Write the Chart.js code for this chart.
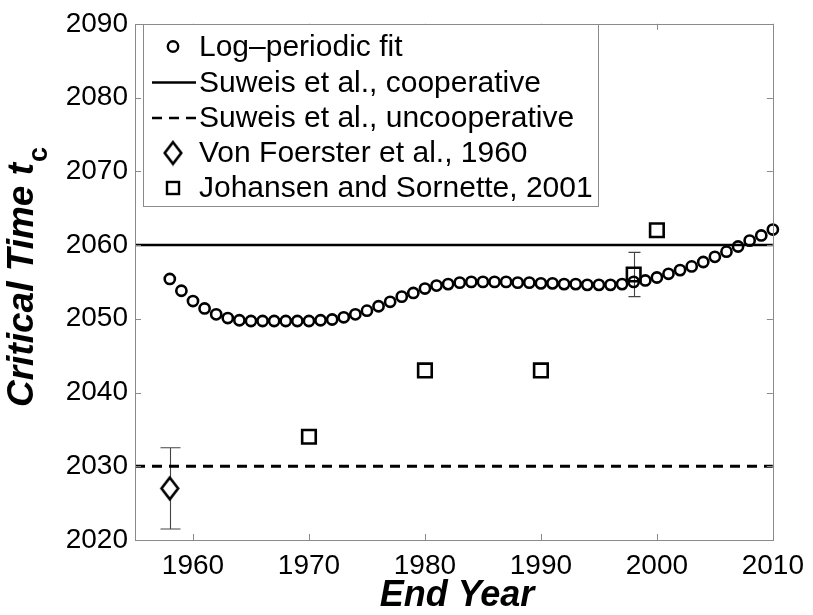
<!DOCTYPE html>
<html>
<head>
<meta charset="utf-8">
<script src="https://cdn.jsdelivr.net/npm/chart.js@4.4.0/dist/chart.umd.min.js"></script>
<style>
  html, body { margin: 0; padding: 0; background: #fff; }
  #wrap { width: 813px; height: 615px; }
</style>
</head>
<body>
<div id="wrap"><canvas id="myChart" width="813" height="615"></canvas></div>
<script>
// data
const fitYears = [1958, 1959, 1960, 1961, 1962, 1963, 1964, 1965, 1966, 1967,
  1968, 1969, 1970, 1971, 1972, 1973, 1974, 1975, 1976, 1977,
  1978, 1979, 1980, 1981, 1982, 1983, 1984, 1985, 1986, 1987,
  1988, 1989, 1990, 1991, 1992, 1993, 1994, 1995, 1996, 1997,
  1998, 1999, 2000, 2001, 2002, 2003, 2004, 2005, 2006, 2007,
  2008, 2009, 2010];
const fitTc = [2055.4, 2053.8, 2052.4, 2051.4, 2050.6, 2050.1, 2049.8, 2049.7, 2049.7, 2049.7,
  2049.7, 2049.7, 2049.7, 2049.8, 2049.9, 2050.2, 2050.6, 2051.1, 2051.7, 2052.3,
  2053.0, 2053.5, 2054.1, 2054.5, 2054.7, 2054.9, 2055.0, 2055.0, 2055.0, 2055.0,
  2054.9, 2054.9, 2054.8, 2054.8, 2054.7, 2054.7, 2054.6, 2054.6, 2054.6, 2054.7,
  2055.0, 2055.2, 2055.6, 2056.1, 2056.6, 2057.1, 2057.7, 2058.4, 2059.1, 2059.8,
  2060.6, 2061.3, 2062.1];
const cooperativeTc = 2060;
const uncooperativeTc = 2030;
const foersterYears = [1958];
const foersterTc = [2027];
const foersterErr = [5.5];
const johansenYears = [1970, 1980, 1990, 1998, 2000];
const johansenTc = [2034, 2043, 2043, 2056, 2062];
const johansenErr = [0, 0, 0, 3, 0];
const xTicks = [1960, 1970, 1980, 1990, 2000, 2010];
const yTicks = [2020, 2030, 2040, 2050, 2060, 2070, 2080, 2090];
const legendLabels = ["Log\u2013periodic fit", "Suweis et al., cooperative", "Suweis et al., uncooperative",
  "Von Foerster et al., 1960", "Johansen and Sornette, 2001"];

const xMin = 1955, xMax = 2010, yMin = 2020, yMax = 2090;
const fontFam = "'Liberation Sans', Arial, Helvetica, sans-serif";
const axisGray = "#8a8a8a";

function pts(xs, ys) {
  return xs.map((x, i) => ({ x: x, y: ys[i] }));
}

// tall diamond marker like the original
function makeDiamond(hw, hh, lw) {
  const c = document.createElement("canvas");
  c.width = Math.ceil(hw * 2 + lw + 2);
  c.height = Math.ceil(hh * 2 + lw + 2);
  const g = c.getContext("2d");
  const cx = c.width / 2, cy = c.height / 2;
  g.beginPath();
  g.moveTo(cx, cy - hh);
  g.lineTo(cx + hw, cy);
  g.lineTo(cx, cy + hh);
  g.lineTo(cx - hw, cy);
  g.closePath();
  g.fillStyle = "#fff";
  g.fill();
  g.lineWidth = lw;
  g.strokeStyle = "#000";
  g.stroke();
  return c;
}
const diamondPlot = makeDiamond(8.3, 10.8, 2.6);
const diamondLegend = makeDiamond(8.3, 10.8, 2.6);

// frame + inward ticks (matlab style)
const framePlugin = {
  id: "frame",
  afterDraw(chart) {
    const ctx = chart.ctx;
    const a = chart.chartArea;
    const xs = chart.scales.x, ys = chart.scales.y;
    ctx.save();
    ctx.strokeStyle = axisGray;
    ctx.lineWidth = 1;
    ctx.strokeRect(Math.round(a.left) + 0.5, Math.round(a.top) + 0.5,
      Math.round(a.right - a.left), Math.round(a.bottom - a.top));
    ctx.beginPath();
    xTicks.forEach(v => {
      const px = Math.round(xs.getPixelForValue(v)) + 0.5;
      ctx.moveTo(px, a.bottom); ctx.lineTo(px, a.bottom - 6);
      ctx.moveTo(px, a.top); ctx.lineTo(px, a.top + 6);
    });
    yTicks.forEach(v => {
      const py = Math.round(ys.getPixelForValue(v)) + 0.5;
      ctx.moveTo(a.left, py); ctx.lineTo(a.left + 6, py);
      ctx.moveTo(a.right, py); ctx.lineTo(a.right - 6, py);
    });
    ctx.stroke();
    ctx.restore();
  }
};

// error bars through the scales
const errorPlugin = {
  id: "errbars",
  beforeDatasetsDraw(chart) {
    const ctx = chart.ctx;
    const xs = chart.scales.x, ys = chart.scales.y;
    function bar(x, y, e, cap) {
      if (!e) return;
      const px = Math.round(xs.getPixelForValue(x)) + 0.5;
      const p1 = ys.getPixelForValue(y - e), p2 = ys.getPixelForValue(y + e);
      ctx.beginPath();
      ctx.moveTo(px, p1); ctx.lineTo(px, p2);
      ctx.moveTo(px - cap, p1); ctx.lineTo(px + cap, p1);
      ctx.moveTo(px - cap, p2); ctx.lineTo(px + cap, p2);
      ctx.stroke();
    }
    ctx.save();
    ctx.strokeStyle = "#444";
    ctx.lineWidth = 1.1;
    foersterYears.forEach((x, i) => bar(x, foersterTc[i], foersterErr[i], 10));
    johansenYears.forEach((x, i) => bar(x, johansenTc[i], johansenErr[i], 6));
    ctx.restore();
  }
};

// boxed legend + axis titles
const textPlugin = {
  id: "texts",
  afterDraw(chart) {
    const ctx = chart.ctx;
    ctx.save();
    // legend box
    const bx = 143.5, by = 24.5, bw = 455, bh = 182;
    ctx.fillStyle = "#fff";
    ctx.fillRect(bx, by, bw, bh);
    ctx.strokeStyle = axisGray;
    ctx.lineWidth = 1;
    ctx.strokeRect(bx, by, bw, bh);
    const rowY = [46.5, 82.5, 118, 153, 188];
    const mx = 173;
    ctx.strokeStyle = "#000";
    // circle
    ctx.lineWidth = 2.4;
    ctx.beginPath();
    ctx.arc(mx, rowY[0], 5.2, 0, Math.PI * 2);
    ctx.stroke();
    // solid line
    ctx.lineWidth = 2.5;
    ctx.beginPath();
    ctx.moveTo(152, rowY[1]); ctx.lineTo(196, rowY[1]);
    ctx.stroke();
    // dashed line
    ctx.setLineDash([10, 7]);
    ctx.beginPath();
    ctx.moveTo(152, rowY[2]); ctx.lineTo(196, rowY[2]);
    ctx.stroke();
    ctx.setLineDash([]);
    // diamond
    ctx.drawImage(diamondLegend, mx - diamondLegend.width / 2, rowY[3] - diamondLegend.height / 2);
    // square
    ctx.lineWidth = 2.4;
    ctx.strokeRect(mx - 6, rowY[4] - 6, 12, 12);
    ctx.fillStyle = "#000";
    ctx.font = "30px " + fontFam;
    ctx.textAlign = "left";
    ctx.textBaseline = "middle";
    legendLabels.forEach((t, i) => ctx.fillText(t, 199, rowY[i] + 1));

    // x title
    ctx.font = "italic bold 36px " + fontFam;
    ctx.textAlign = "center";
    ctx.textBaseline = "alphabetic";
    ctx.fillText("End Year", 457, 606);

    // y title, rotated, with subscript
    ctx.translate(33, 407);
    ctx.rotate(-Math.PI / 2);
    ctx.textAlign = "left";
    ctx.font = "italic bold 37px " + fontFam;
    const main = "Critical Time t";
    ctx.fillText(main, 0, 0);
    const w = ctx.measureText(main).width;
    ctx.font = "bold 27px " + fontFam;
    ctx.fillText("c", w + 1, 14);
    ctx.restore();
  }
};

const ctx = document.getElementById("myChart").getContext("2d");
const myChart = new Chart(ctx, {
  type: "scatter",
  data: {
    datasets: [
      {
        label: legendLabels[0],
        data: pts(fitYears, fitTc),
        pointStyle: "circle",
        pointRadius: 5.1,
        pointBorderWidth: 2.6,
        borderColor: "#000",
        backgroundColor: "rgba(0,0,0,0)",
        showLine: false,
        clip: false,
        order: 1
      },
      {
        label: legendLabels[1],
        type: "line",
        data: pts([xMin, xMax], [cooperativeTc, cooperativeTc]),
        borderColor: "#000",
        borderWidth: 2.6,
        pointRadius: 0,
        fill: false,
        order: 3
      },
      {
        label: legendLabels[2],
        type: "line",
        data: pts([xMin, xMax], [uncooperativeTc, uncooperativeTc]),
        borderColor: "#000",
        borderWidth: 2.8,
        borderDash: [10, 7],
        pointRadius: 0,
        fill: false,
        order: 3
      },
      {
        label: legendLabels[3],
        data: pts(foersterYears, foersterTc),
        pointStyle: diamondPlot,
        pointRadius: 10,
        borderColor: "#000",
        backgroundColor: "#fff",
        clip: false,
        order: 0
      },
      {
        label: legendLabels[4],
        data: pts(johansenYears, johansenTc),
        pointStyle: "rect",
        pointRadius: 9.6,
        pointBorderWidth: 2.6,
        borderColor: "#000",
        backgroundColor: "rgba(0,0,0,0)",
        clip: false,
        order: 0
      }
    ]
  },
  options: {
    responsive: false,
    animation: false,
    layout: { padding: { left: 0, right: 38, top: 16, bottom: 0 } },
    plugins: {
      legend: { display: false },
      tooltip: { enabled: false },
      title: { display: false }
    },
    scales: {
      x: {
        type: "linear",
        min: xMin,
        max: xMax,
        afterBuildTicks: s => { s.ticks = xTicks.map(v => ({ value: v })); },
        afterFit: s => { s.height = 75; },
        grid: { display: false, drawTicks: false },
        border: { display: false },
        ticks: {
          color: "#000",
          padding: 9,
          maxRotation: 0,
          font: { family: fontFam, size: 28 },
          callback: v => String(v)
        }
      },
      y: {
        type: "linear",
        min: yMin,
        max: yMax,
        afterBuildTicks: s => { s.ticks = yTicks.map(v => ({ value: v })); },
        afterFit: s => { s.width = 135; },
        grid: { display: false, drawTicks: false },
        border: { display: false },
        ticks: {
          color: "#000",
          padding: 7,
          font: { family: fontFam, size: 28 },
          callback: v => String(v)
        }
      }
    }
  },
  plugins: [errorPlugin, framePlugin, textPlugin]
});
</script>
</body>
</html>
